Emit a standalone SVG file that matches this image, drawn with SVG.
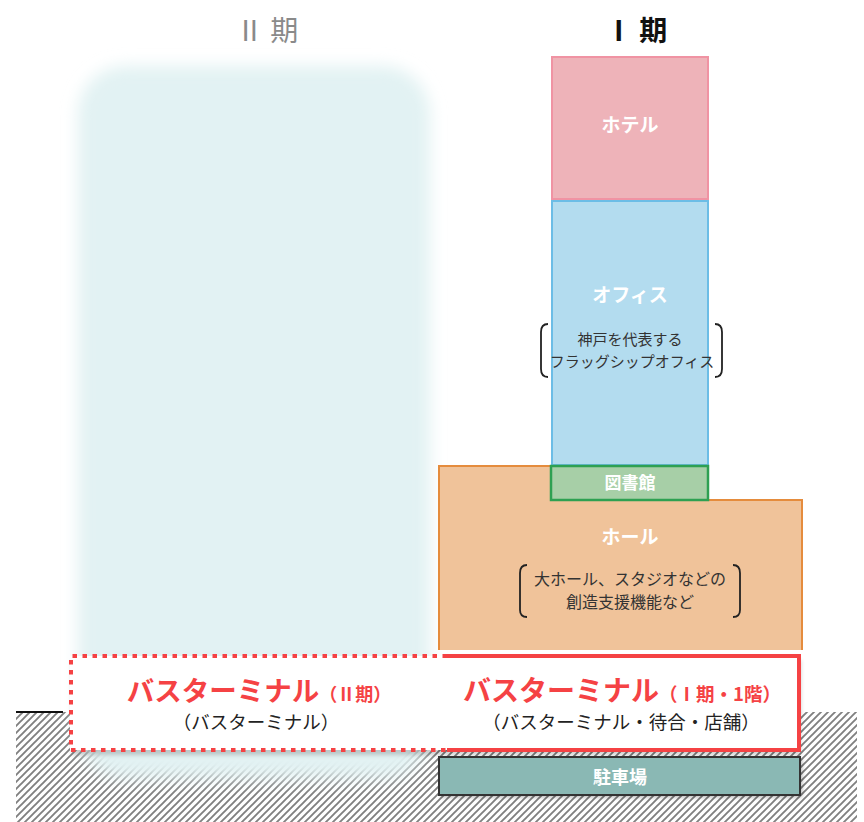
<svg xmlns="http://www.w3.org/2000/svg" width="864" height="822" viewBox="0 0 864 822">
<defs>
<style>
text{font-family:"Noto Sans CJK JP","Noto Sans",sans-serif;text-anchor:middle}
.wt{fill:#fff;font-weight:bold}
.note{fill:#333;font-size:15px}
.red{fill:#f54244;font-weight:bold}
.blk{fill:#222}
.br{fill:none;stroke:#222;stroke-width:1.8}
</style>
<pattern id="hatch" patternUnits="userSpaceOnUse" width="7" height="7">
<rect width="7" height="7" fill="#fff"/>
<path d="M-1,1 l2,-2 M0,7 l7,-7 M6,8 l2,-2" stroke="#808080" stroke-width="1.9"/>
</pattern>
<filter id="blur" x="-20%" y="-20%" width="140%" height="140%"><feGaussianBlur stdDeviation="8"/></filter>
<filter id="sh" x="-10%" y="-30%" width="120%" height="160%"><feGaussianBlur stdDeviation="2"/></filter>
</defs>
<rect width="864" height="822" fill="#fff"/>

<g id="ground">
<rect x="16" y="712" width="841" height="110" fill="url(#hatch)"/>
<line x1="16" y1="712" x2="63" y2="712" stroke="#111" stroke-width="2"/>
</g>

<g id="phase2-building">
<rect x="78" y="66" width="352" height="712" rx="48" fill="#e2f2f3" filter="url(#blur)"/>
</g>

<g id="headings">
<text x="267" y="41" font-size="28" fill="#8a8a8a">Ⅱ 期</text>
<text x="636" y="41" font-size="28" fill="#111" font-weight="bold">Ⅰ 期</text>
</g>

<g id="hotel">
<rect x="552" y="57" width="156" height="142" fill="#eeb3b9" stroke="#f093a3" stroke-width="2"/>
<text class="wt" x="630" y="132" font-size="19">ホテル</text>
</g>

<g id="office">
<rect x="552" y="201" width="156" height="264" fill="#b3dcef" stroke="#6cbde6" stroke-width="2"/>
<text class="wt" x="630" y="302" font-size="19">オフィス</text>
<text class="note" x="630" y="345">神戸を代表する</text>
<text class="note" x="632" y="367">フラッグシップオフィス</text>
<path class="br" d="M548,324 Q541,324 541,332 L541,369 Q541,377 548,377"/>
<path class="br" d="M715,324 Q722,324 722,332 L722,369 Q722,377 715,377"/>
</g>

<g id="hall">
<path d="M439,466 H551 V500 H802 V650 H439 Z" fill="#f0c39a"/>
<path d="M439,650 V466 H551 V500 H802 V650" fill="none" stroke="#e58c3d" stroke-width="2"/>
<text class="wt" x="630" y="544" font-size="19">ホール</text>
<text class="note" x="630" y="585" style="font-size:16px">大ホール、スタジオなどの</text>
<text class="note" x="630" y="608" style="font-size:16px">創造支援機能など</text>
<path class="br" d="M527,565 Q520,565 520,573 L520,610 Q520,617 527,617"/>
<path class="br" d="M733,565 Q740,565 740,573 L740,610 Q740,617 733,617"/>
</g>

<g id="library">
<rect x="551" y="466" width="157" height="34" fill="#a7cfa7" stroke="#2ea052" stroke-width="2.5"/>
<text class="wt" x="630" y="489" font-size="17">図書館</text>
</g>

<g id="bus-terminal">
<rect x="72" y="660" width="729" height="95" fill="#000" opacity="0.18" filter="url(#sh)"/>
<rect x="70" y="656" width="729" height="94" fill="#fff"/>
<path d="M447,656 H71 V750 H447" fill="none" stroke="#f54244" stroke-width="4" stroke-dasharray="4.5 5.5"/>
<path d="M447,656 H799 V750 H447" fill="none" stroke="#f54244" stroke-width="4"/>
<text x="259" y="701"><tspan class="red" font-size="27.5">バスターミナル</tspan><tspan class="red" font-size="18">（Ⅱ期）</tspan></text>
<text class="blk" x="256" y="729" font-size="18.5">（バスターミナル）</text>
<text x="622" y="701"><tspan class="red" font-size="28">バスターミナル</tspan><tspan class="red" font-size="18.5">（Ⅰ期・1階）</tspan></text>
<text class="blk" x="621" y="729" font-size="18.5">（バスターミナル・待合・店舗）</text>
</g>

<g id="parking">
<rect x="441" y="759" width="361" height="38" fill="#000" opacity="0.3" filter="url(#sh)"/>
<rect x="439" y="757" width="361" height="38" fill="#8ab8b4" stroke="#333" stroke-width="2"/>
<text class="wt" x="620" y="784" font-size="18">駐車場</text>
</g>

<g id="connectors"/>
</svg>
